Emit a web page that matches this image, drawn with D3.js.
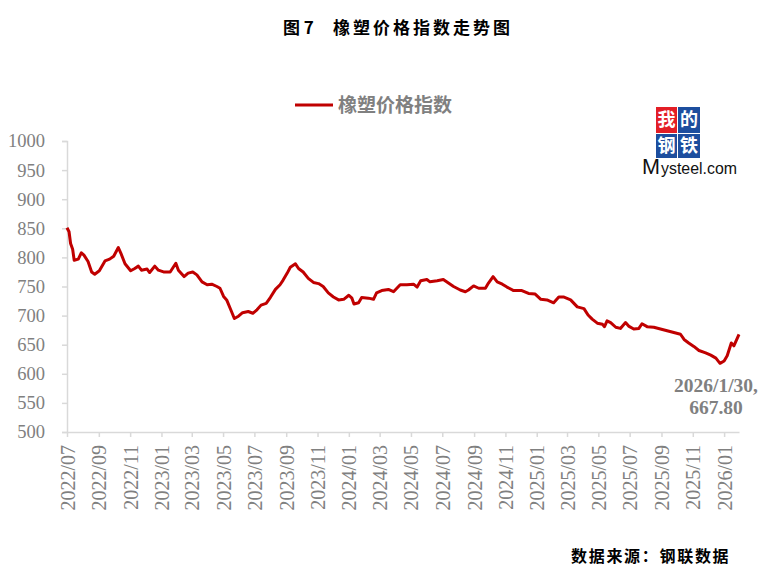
<!DOCTYPE html>
<html>
<head>
<meta charset="utf-8">
<script src="https://cdn.jsdelivr.net/npm/d3@7"></script>
<style>
  body { margin: 0; background: #fff; }
  svg { display: block; }
</style>
</head>
<body>
<div id="chart"></div>
<script>
// 橡塑价格指数
const dates = [
  "2022-07-01","2022-07-05","2022-07-08","2022-07-12","2022-07-15","2022-07-23","2022-07-29","2022-08-03",
  "2022-08-11","2022-08-18","2022-08-24","2022-09-02","2022-09-13","2022-09-22","2022-09-30","2022-10-09",
  "2022-10-14","2022-10-22","2022-11-02","2022-11-10","2022-11-17","2022-11-23","2022-12-04","2022-12-09",
  "2022-12-19","2022-12-26","2023-01-05","2023-01-18","2023-01-29","2023-02-03","2023-02-14","2023-02-22",
  "2023-03-03","2023-03-11","2023-03-21","2023-03-31","2023-04-09","2023-04-19","2023-04-25","2023-05-02",
  "2023-05-08","2023-05-16","2023-05-23","2023-05-31","2023-06-08","2023-06-19","2023-06-28","2023-07-06",
  "2023-07-14","2023-07-24","2023-08-01","2023-08-11","2023-08-20","2023-08-26","2023-09-03","2023-09-09",
  "2023-09-19","2023-09-25","2023-10-04","2023-10-14","2023-10-24","2023-11-03","2023-11-12","2023-11-22",
  "2023-12-02","2023-12-12","2023-12-22","2024-01-01","2024-01-07","2024-01-11","2024-01-20","2024-01-26",
  "2024-02-08","2024-02-18","2024-02-24","2024-03-05","2024-03-18","2024-03-28","2024-04-10","2024-04-23",
  "2024-05-06","2024-05-13","2024-05-20","2024-06-01","2024-06-07","2024-06-21","2024-07-03","2024-07-13",
  "2024-07-23","2024-08-05","2024-08-15","2024-08-21","2024-08-31","2024-09-10","2024-09-23","2024-09-29",
  "2024-10-08","2024-10-16","2024-10-26","2024-11-04","2024-11-17","2024-12-03","2024-12-16","2024-12-29",
  "2025-01-09","2025-01-21","2025-02-03","2025-02-13","2025-02-22","2025-03-08","2025-03-21","2025-04-03",
  "2025-04-11","2025-04-19","2025-04-29","2025-05-09","2025-05-13","2025-05-18","2025-05-25","2025-06-04",
  "2025-06-13","2025-06-23","2025-06-29","2025-07-09","2025-07-19","2025-07-25","2025-08-04","2025-08-17",
  "2025-08-30","2025-09-12","2025-09-25","2025-10-08","2025-10-15","2025-10-24","2025-11-03","2025-11-13",
  "2025-11-26","2025-12-06","2025-12-16","2025-12-24","2026-01-01","2026-01-07","2026-01-15","2026-01-20",
  "2026-01-25","2026-01-30"
];
const values = [
  851, 844, 824, 814, 795, 797, 808, 804,
  793, 775, 771, 777, 794, 797, 802, 817,
  807, 789, 777, 781, 785, 778, 780, 774,
  785, 778, 775, 775, 790, 778, 767, 773,
  775, 770, 758, 753, 754, 750, 747, 733,
  727, 710, 695, 699, 705, 707, 704, 710,
  718, 721, 731, 745, 753, 761, 773, 783,
  789, 781, 775, 764, 757, 755, 750, 739,
  732, 727, 728, 735, 730, 720, 722, 731,
  730, 728, 739, 743, 745, 741, 753, 753,
  754, 749, 760, 762, 758, 760, 762, 756,
  750, 744, 741, 744, 751, 747, 747, 756,
  767, 758, 754, 749, 743, 743, 738, 737,
  728, 727, 722, 732, 732, 727, 715, 712,
  701, 694, 687, 685, 681, 691, 688, 680,
  678, 688, 682, 677, 678, 686, 681, 680,
  677, 674, 671, 668, 659, 653, 647, 640,
  636, 632, 627, 618, 622, 631, 653, 648,
  658, 667.8
];
const yTicks = [500, 550, 600, 650, 700, 750, 800, 850, 900, 950, 1000];
const xStart = "2022-07-01";
const xEnd = "2026-01-30";
const seriesName = "橡塑价格指数";
const endNote = ["2026/1/30,", "667.80"];
const titleNum = "图 7";
const titleText = "橡塑价格指数走势图";
const sourceText = "数据来源：钢联数据";
const logoChars = ["我", "的", "钢", "铁"];

const width = 774, height = 582;
const lineColor = "#c00000";
const grey = "#808080";
const axisColor = "#d9d9d9";
const serif = "'Liberation Serif', 'Times New Roman', serif";
const cjk = "'Noto Sans CJK SC', 'Noto Sans', sans-serif";

const parse = d3.timeParse("%Y-%m-%d");
const data = dates.map((d, i) => ({ date: parse(d), value: values[i] }));

const svg = d3.select("#chart").append("svg")
    .attr("width", width)
    .attr("height", height)
    .style("background", "#fff");

const x = d3.scaleTime()
    .domain([parse(xStart), parse(xEnd)])
    .range([67, 739]);

const y = d3.scaleLinear()
    .domain([500, 1000])
    .range([432, 141]);

// title
svg.append("text")
    .attr("x", 283).attr("y", 34)
    .style("font-family", cjk).style("font-weight", 700).style("font-size", "17px")
    .style("white-space", "pre")
    .attr("fill", "#000")
    .text(titleNum);

svg.append("text")
    .attr("x", 333).attr("y", 34)
    .style("font-family", cjk).style("font-weight", 700).style("font-size", "17px")
    .style("letter-spacing", "3px")
    .attr("fill", "#000")
    .text(titleText);

// y axis
const yAxis = svg.append("g")
    .attr("transform", "translate(67,0)")
    .call(d3.axisLeft(y).tickValues(yTicks).tickSize(5).tickPadding(17).tickFormat(d3.format("d")));

yAxis.select(".domain").attr("stroke", axisColor).attr("stroke-width", 1.5);
yAxis.selectAll(".tick line").attr("stroke", axisColor).attr("stroke-width", 1.5);
yAxis.selectAll(".tick text")
    .attr("fill", grey)
    .style("font-family", serif)
    .style("font-size", "18.5px");

// x axis
const xTicks = d3.timeMonth.every(2).range(parse(xStart), parse(xEnd));

const xAxis = svg.append("g")
    .attr("transform", "translate(0,432)")
    .call(d3.axisBottom(x).tickValues(xTicks).tickSize(5).tickSizeOuter(0).tickFormat(d3.timeFormat("%Y/%m")));

xAxis.select(".domain").attr("stroke", axisColor).attr("stroke-width", 1.5);
xAxis.selectAll(".tick line").attr("stroke", axisColor).attr("stroke-width", 1.5);
xAxis.selectAll(".tick text")
    .attr("transform", "rotate(-90)")
    .attr("text-anchor", "end")
    .attr("x", -13)
    .attr("y", 0)
    .attr("dy", "0.35em")
    .attr("fill", grey)
    .style("font-family", serif)
    .style("font-size", "20px");

// the line
const line = d3.line()
    .x(d => x(d.date))
    .y(d => y(d.value));

svg.append("path")
    .datum(data)
    .attr("fill", "none")
    .attr("stroke", lineColor)
    .attr("stroke-width", 3)
    .attr("stroke-linejoin", "round")
    .attr("d", line);

// legend
svg.append("line")
    .attr("x1", 295).attr("x2", 333)
    .attr("y1", 105).attr("y2", 105)
    .attr("stroke", lineColor)
    .attr("stroke-width", 3);

svg.append("text")
    .attr("x", 338).attr("y", 112)
    .style("font-family", cjk).style("font-weight", 700).style("font-size", "19px")
    .attr("fill", grey)
    .text(seriesName);

// end note
const last = data[data.length - 1];
svg.selectAll("text.endnote")
    .data(endNote)
    .join("text")
    .classed("endnote", true)
    .attr("x", x(last.date) - 23)
    .attr("y", (d, i) => 392 + i * 22)
    .attr("text-anchor", "middle")
    .style("font-family", serif).style("font-weight", 700).style("font-size", "19.5px")
    .attr("fill", grey)
    .text(d => d);

// source
svg.append("text")
    .attr("x", 571).attr("y", 562)
    .style("font-family", cjk).style("font-weight", 700).style("font-size", "16px")
    .style("letter-spacing", "1.7px")
    .attr("fill", "#000")
    .text(sourceText);

// logo
const logo = svg.append("g").attr("transform", "translate(656,107)");
const boxes = [
    { x: 0, y: 0, w: 21, h: 26, fill: "#e31e26" },
    { x: 22, y: 0, w: 22, h: 26, fill: "#1d4e9e" },
    { x: 0, y: 27, w: 21, h: 24, fill: "#1d4e9e" },
    { x: 22, y: 27, w: 22, h: 24, fill: "#1d4e9e" }
];
logo.selectAll("rect")
    .data(boxes)
    .join("rect")
    .attr("x", d => d.x).attr("y", d => d.y)
    .attr("width", d => d.w).attr("height", d => d.h)
    .attr("fill", d => d.fill);

logo.selectAll("text")
    .data(boxes)
    .join("text")
    .attr("x", d => d.x + d.w / 2)
    .attr("y", d => d.y + d.h / 2)
    .attr("dy", "0.36em")
    .attr("text-anchor", "middle")
    .style("font-family", cjk).style("font-weight", 700).style("font-size", "18px")
    .attr("fill", "#fff")
    .text((d, i) => logoChars[i]);

const brand = svg.append("g")
    .style("font-family", "'Liberation Sans Narrow', 'Liberation Sans', Arial, sans-serif")
    .attr("fill", "#111");
brand.append("text")
    .attr("x", 642).attr("y", 174)
    .attr("textLength", 18).attr("lengthAdjust", "spacingAndGlyphs")
    .style("font-size", "22px")
    .text("M");
brand.append("text")
    .attr("x", 661).attr("y", 174)
    .attr("textLength", 76).attr("lengthAdjust", "spacingAndGlyphs")
    .style("font-size", "17px")
    .text("ysteel.com");
</script>
</body>
</html>
